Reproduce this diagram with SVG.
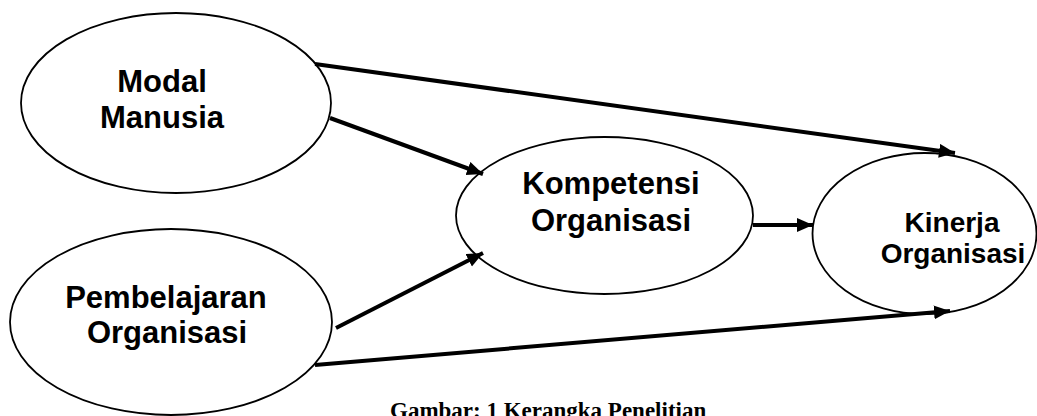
<svg xmlns="http://www.w3.org/2000/svg" width="1037" height="416" viewBox="0 0 1037 416">
<style>
.node ellipse{fill:#fff;stroke:#000;stroke-width:1.8}
.lbl{font-family:"Liberation Sans",Arial,sans-serif;font-weight:bold;fill:#000;text-anchor:middle}
.conn line{stroke:#000;stroke-width:4;marker-end:url(#ah)}
.cap{font-family:"Liberation Serif","Times New Roman",serif;font-weight:bold;font-size:23px;fill:#000}
</style>
<defs>
<marker id="ah" markerUnits="userSpaceOnUse" markerWidth="18" markerHeight="16" refX="16" refY="7" orient="auto">
<path d="M0,0 L16,7 L0,14 Z" fill="#000"/>
</marker>
</defs>
<rect width="1037" height="416" fill="#fff"/>
<g id="modal-manusia" class="node">
<ellipse cx="176" cy="103" rx="155" ry="90"/>
<text class="lbl" x="162" y="92" font-size="31">Modal</text>
<text class="lbl" x="162" y="128" font-size="31">Manusia</text>
</g>
<g id="pembelajaran-organisasi" class="node">
<ellipse cx="171" cy="322" rx="161" ry="93"/>
<text class="lbl" x="166" y="308" font-size="31">Pembelajaran</text>
<text class="lbl" x="167" y="343" font-size="31">Organisasi</text>
</g>
<g id="kompetensi-organisasi" class="node">
<ellipse cx="604.5" cy="215.5" rx="148.5" ry="78.5"/>
<text class="lbl" x="611" y="194" font-size="31">Kompetensi</text>
<text class="lbl" x="611" y="231" font-size="31">Organisasi</text>
</g>
<g id="kinerja-organisasi" class="node">
<ellipse cx="924.5" cy="233.5" rx="112" ry="80.5"/>
<text class="lbl" x="952" y="232" font-size="28">Kinerja</text>
<text class="lbl" x="953" y="263" font-size="28">Organisasi</text>
</g>
<g id="connectors" class="conn">
<line x1="315" y1="64" x2="955" y2="153"/>
<line x1="330" y1="118" x2="483" y2="174"/>
<line x1="336" y1="328" x2="483" y2="253"/>
<line x1="315" y1="365" x2="950" y2="311"/>
<line x1="753" y1="225" x2="813" y2="225"/>
</g>
<text class="cap" x="390" y="418">Gambar: 1 Kerangka Penelitian</text>
</svg>
